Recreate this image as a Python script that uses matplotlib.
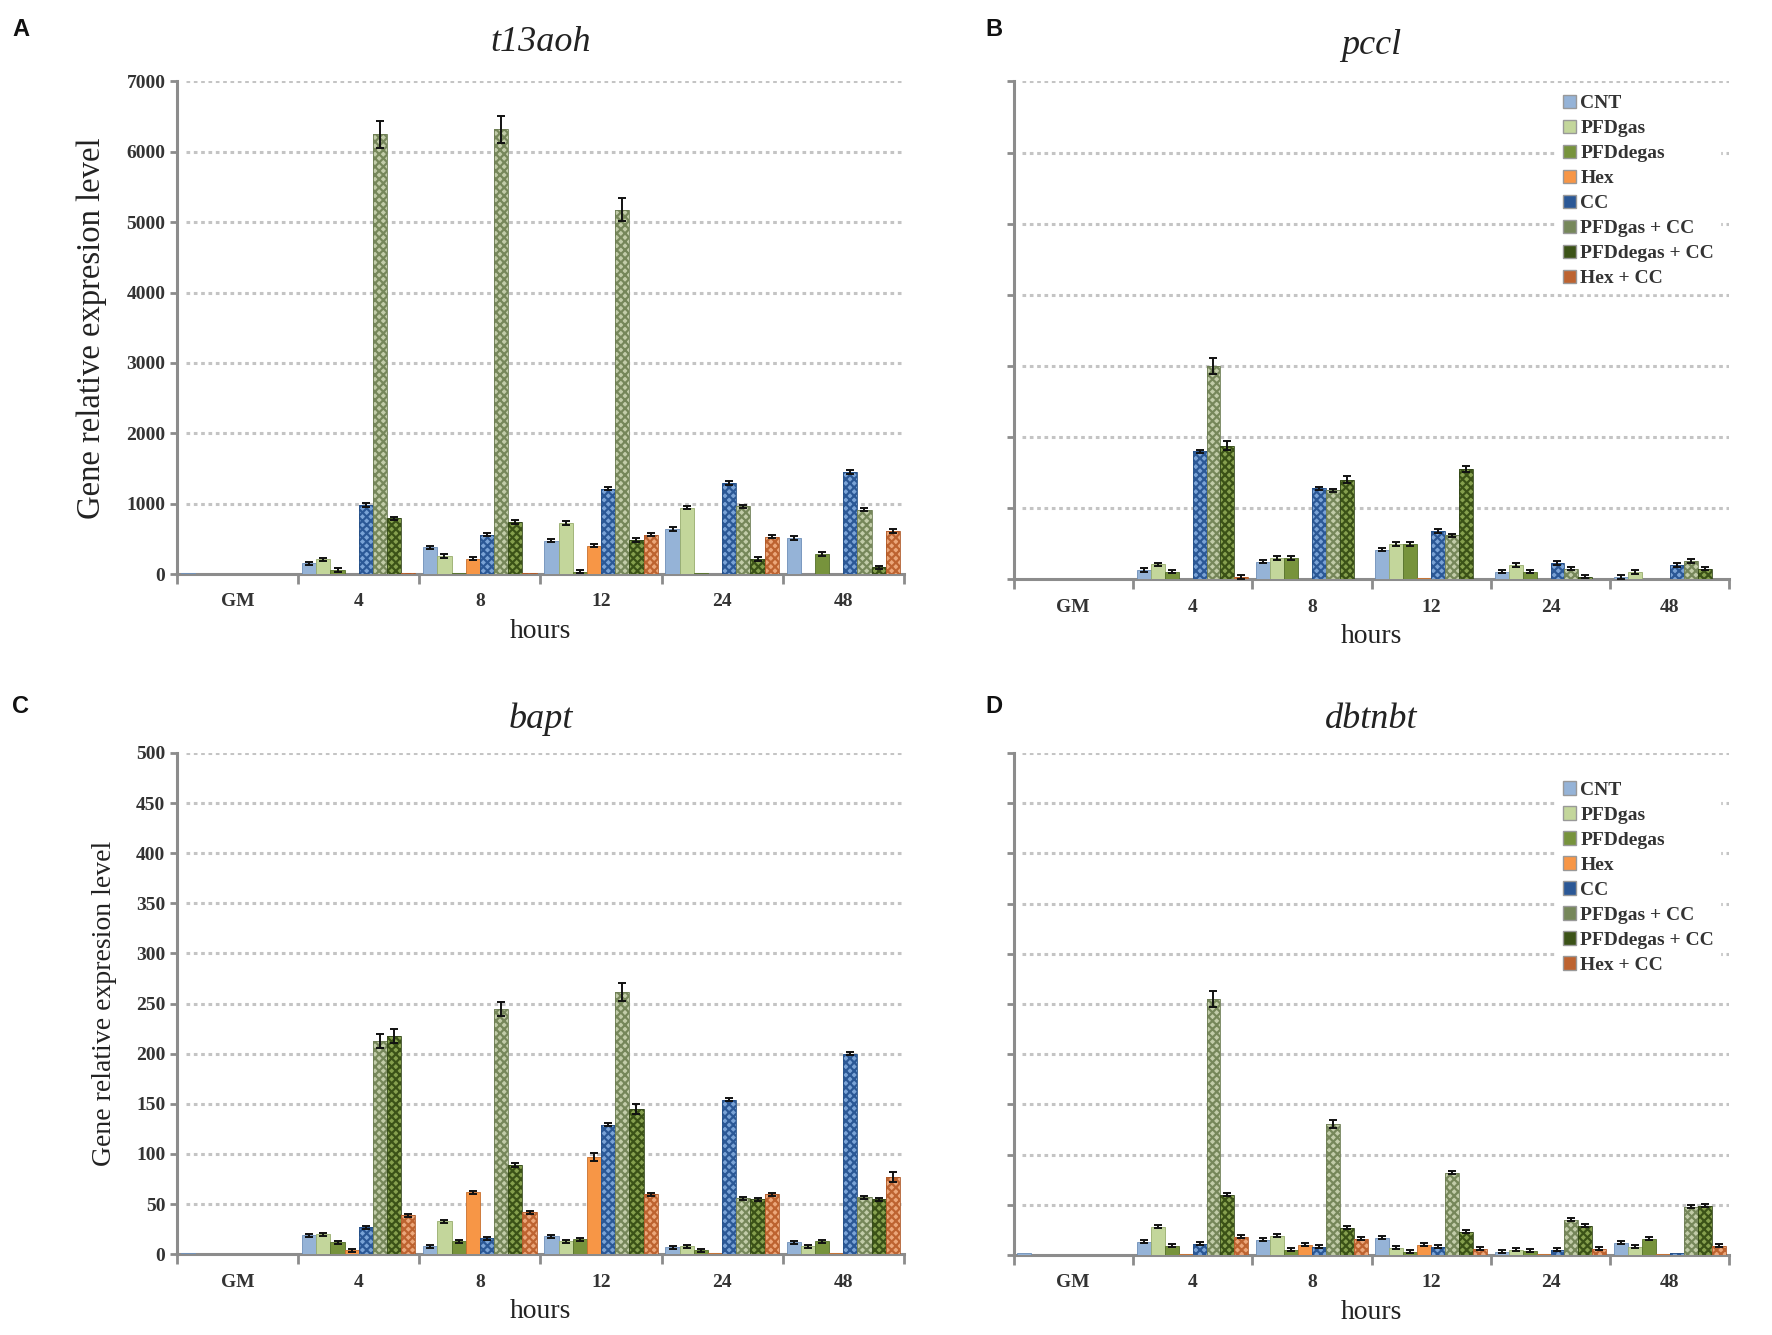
import numpy as np
import matplotlib
matplotlib.use("Agg")
import matplotlib.pyplot as plt
from matplotlib.patches import Patch

groups = ["GM", "4", "8", "12", "24", "48"]
series = ["CNT", "PFDgas", "PFDdegas", "Hex", "CC", "PFDgas + CC", "PFDdegas + CC", "Hex + CC"]

# rows = groups, columns = series
t13aoh = [
    [20, 0, 0, 0, 0, 0, 0, 0],
    [150, 210, 60, 0, 980, 6250, 790, 10],
    [380, 260, 10, 220, 560, 6320, 740, 10],
    [476, 724, 33, 405, 1214, 5180, 486, 562],
    [643, 943, 10, 0, 1295, 962, 214, 533],
    [514, 0, 286, 0, 1452, 914, 95, 610],
]
pccl = [
    [10, 0, 0, 0, 0, 0, 0, 0],
    [130, 210, 110, 0, 1800, 3000, 1880, 30],
    [250, 300, 300, 10, 1280, 1250, 1400, 10],
    [420, 500, 500, 15, 680, 620, 1550, 0],
    [110, 200, 110, 0, 230, 150, 40, 10],
    [30, 100, 0, 0, 200, 260, 150, 0],
]
bapt = [
    [1.5, 0.5, 0.5, 0.5, 0.5, 0.5, 0.5, 0.5],
    [19, 20, 12, 4, 27, 213, 218, 39],
    [8, 33, 13, 62, 16, 245, 89, 42],
    [18, 13, 15, 97, 129, 262, 145, 60],
    [7, 8, 4, 1, 154, 56, 55, 60],
    [12, 8, 13, 1, 200, 57, 55, 77],
]
dbtnbt = [
    [1.5, 0, 0, 0, 0, 0, 0, 0],
    [13, 28, 9, 1, 11, 255, 60, 18],
    [15, 19, 5, 10, 8, 130, 27, 16],
    [17, 7, 3, 10, 8, 82, 23, 6],
    [3, 5, 4, 1, 5, 35, 29, 6],
    [12, 8, 16, 1, 2, 48, 49, 9],
]

# visible error bars (group, series): error; the rest get a small cap
err_t13aoh = {(1, 5): 190, (2, 5): 190, (3, 5): 160}
err_pccl = {(1, 5): 110, (1, 6): 60, (2, 6): 50, (3, 6): 40}
err_bapt = {(1, 5): 7, (1, 6): 7, (2, 5): 7, (3, 5): 9, (3, 6): 5, (5, 7): 5, (3, 3): 4}
err_dbtnbt = {(1, 5): 8, (2, 5): 4}

colors = ["#95b3d7", "#c3d69b", "#77933c", "#f79646",
          "#7aa3d6", "#c2cca9", "#86a04e", "#eba77a"]
hatch_colors = [None, None, None, None,
                "#2b5896", "#76875a", "#3b5217", "#bd6330"]
edge_colors = ["#6d8fb8", "#98ad6d", "#55702a", "#c8702e",
               "#244f86", "#6d7d54", "#33481a", "#b05a28"]

plt.rcParams["hatch.linewidth"] = 1.6

fig = plt.figure(figsize=(17.72, 13.35), dpi=100)

serif = "Liberation Serif"
axis_gray = "#8c8c8c"


def draw_panel(ax, data, errs, ymax, ystep, small_err, show_ylabels, title, ylab_size,
               title_pad, legend_y):
    data = np.array(data, dtype=float)
    w = 0.117
    pad = (1 - 8 * w) / 2
    for k in range(len(series)):
        x = np.arange(len(groups)) + pad + (k + 0.5) * w
        h = data[:, k]
        if hatch_colors[k] is None:
            ax.bar(x, h, width=w, color=colors[k], edgecolor=edge_colors[k],
                   linewidth=0.6, zorder=3)
        else:
            ax.bar(x, h, width=w, color=colors[k], edgecolor=hatch_colors[k],
                   hatch="xxxx", linewidth=0, zorder=3)
            ax.bar(x, h, width=w, fill=False, edgecolor=edge_colors[k],
                   linewidth=0.6, zorder=3)
        e = np.array([errs.get((g, k), small_err) for g in range(len(groups))])
        show = h > ymax * 0.004
        ax.errorbar(x[show], h[show], yerr=e[show], fmt="none", ecolor="#111111",
                    elinewidth=1.4, capsize=3, capthick=1.4, zorder=4)

    ax.set_xlim(0, len(groups))
    ax.set_ylim(0, ymax)
    ax.set_yticks(np.arange(0, ymax + ystep / 2, ystep))
    for yv in np.arange(ystep, ymax + ystep / 2, ystep):
        ax.axhline(yv, xmin=0.012, color="#c4c4c4", linestyle=(0, (1.2, 1.2)),
                   linewidth=2.2, zorder=1)
    ax.set_xticks(np.arange(0, len(groups) + 1), minor=False)
    ax.set_xticklabels([])
    ax.set_xticks(np.arange(len(groups)) + 0.5, minor=True)
    ax.set_xticklabels(groups, minor=True, fontfamily=serif, fontweight="bold",
                       fontsize=14, color="#333333")
    ax.tick_params(axis="x", which="major", direction="out", length=7, width=2,
                   color=axis_gray)
    ax.tick_params(axis="x", which="minor", length=0, pad=14)
    ax.tick_params(axis="y", direction="out", length=5, width=2, color=axis_gray)
    if show_ylabels:
        ax.set_yticklabels([f"{int(v)}" for v in ax.get_yticks()], fontfamily=serif,
                           fontweight="bold", fontsize=14, color="#333333")
        ax.set_ylabel("Gene relative expresion level", fontfamily=serif,
                      fontsize=ylab_size, color="#222222", labelpad=14)
    else:
        ax.set_yticklabels([])
    ax.set_xlabel("hours", fontfamily=serif, fontsize=20, color="#222222", labelpad=6)
    for s in ["top", "right"]:
        ax.spines[s].set_visible(False)
    for s in ["left", "bottom"]:
        ax.spines[s].set_color(axis_gray)
        ax.spines[s].set_linewidth(2.2)
    ax.set_title(title, fontfamily=serif, fontstyle="italic", fontsize=26,
                 color="#222222", pad=title_pad)

    if legend_y is not None:
        handles = []
        for k in range(len(series)):
            handles.append(Patch(facecolor=colors[k] if hatch_colors[k] is None else hatch_colors[k],
                                 edgecolor="#999999", label=series[k]))
        leg = ax.legend(handles=handles, loc="upper right", bbox_to_anchor=(1.0, legend_y),
                        frameon=True, facecolor="white", edgecolor="white",
                        framealpha=1, handlelength=0.7, handleheight=0.7,
                        handletextpad=0.2, labelspacing=0.38, borderpad=0.3,
                        prop={"family": serif, "weight": "bold", "size": 14})
        leg.set_zorder(5)
        for t in leg.get_texts():
            t.set_color("#333333")


axA = fig.add_axes([0.100, 0.570, 0.410, 0.369])
draw_panel(axA, t13aoh, err_t13aoh, 7000, 1000, 25, True, "t13aoh", 23.5, 22, None)
axB = fig.add_axes([0.572, 0.566, 0.404, 0.373])
draw_panel(axB, pccl, err_pccl, 7000, 1000, 25, False, "pccl", 21, 20, 1.005)
axC = fig.add_axes([0.100, 0.0605, 0.410, 0.3755])
draw_panel(axC, bapt, err_bapt, 500, 50, 1.5, True, "bapt", 20, 18, None)
axD = fig.add_axes([0.572, 0.060, 0.404, 0.376])
draw_panel(axD, dbtnbt, err_dbtnbt, 500, 50, 1.5, False, "dbtnbt", 21, 18, 0.975)

for letter, (x, y) in {"A": (0.007, 0.978), "B": (0.556, 0.978),
                       "C": (0.007, 0.471), "D": (0.556, 0.471)}.items():
    fig.text(x, y, letter, fontfamily="Liberation Sans", fontweight="bold",
             fontsize=17, va="center", ha="left", color="#111111")

fig.savefig("out.png", dpi=100, facecolor="white")
